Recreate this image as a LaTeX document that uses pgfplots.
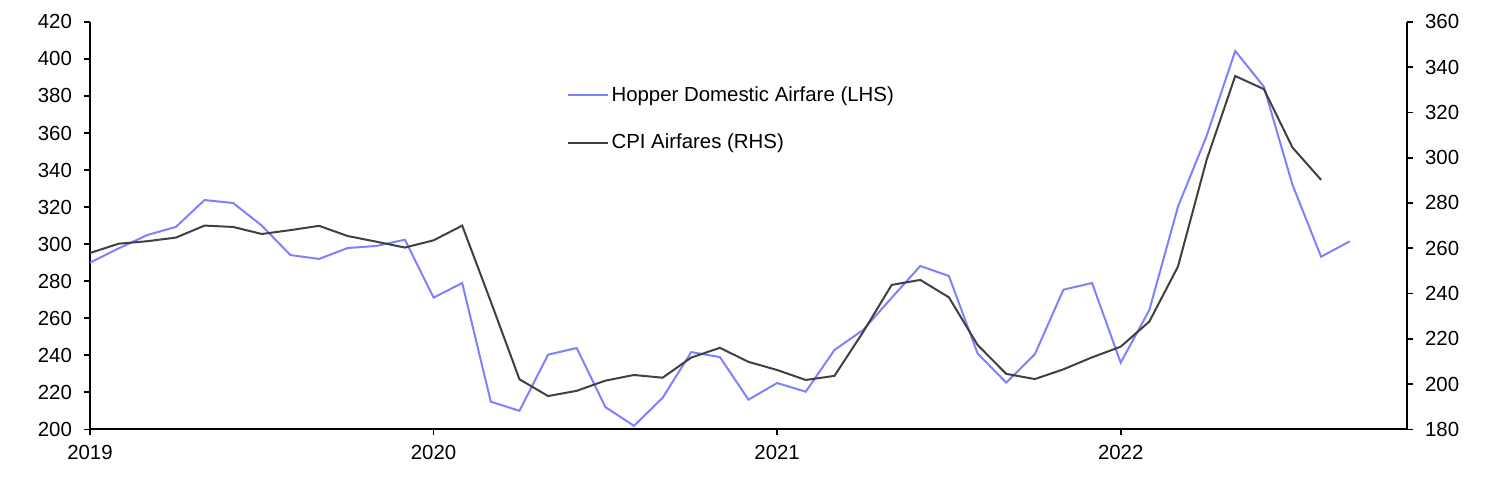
\documentclass[border=0pt]{standalone}
\usepackage{fontspec}
\setmainfont{Liberation Sans}
\usepackage{pgfplots}
\pgfplotsset{compat=1.18}

\definecolor{hopper}{RGB}{128,128,255}
\definecolor{cpi}{RGB}{64,64,64}

% months since Jan 2019
\pgfplotstableread{
m  v
0  290.0
1  297.7
2  304.9
3  309.3
4  323.8
5  322.2
6  310.0
7  294.1
8  292.0
9  297.9
10 299.0
11 302.4
12 271.1
13 279.0
14 214.9
15 210.0
16 240.3
17 243.9
18 212.0
19 201.9
20 217.0
21 241.7
22 239.0
23 216.0
24 225.0
25 220.3
26 242.8
27 253.6
28 271.0
29 288.2
30 282.8
31 241.0
32 225.2
33 240.5
34 275.4
35 279.0
36 236.0
37 264.4
38 320.2
39 358.4
40 404.3
41 385.0
42 332.0
43 293.2
44 301.5
}\hopper

\pgfplotstableread{
m  v
0  257.9
1  262.0
2  263.1
3  264.7
4  270.0
5  269.4
6  266.3
7  268.0
8  269.9
9  265.4
10 262.9
11 260.3
12 263.5
13 270.0
14 236.4
15 202.1
16 194.7
17 197.0
18 201.5
19 204.0
20 202.8
21 211.7
22 216.0
23 209.8
24 206.2
25 201.8
26 203.6
27 222.9
28 243.8
29 246.0
30 238.3
31 217.3
32 204.5
33 202.2
34 206.5
35 211.8
36 216.5
37 227.6
38 251.9
39 299.0
40 336.1
41 330.3
42 304.5
43 290.2
}\cpi

\pgfplotsset{
  every axis/.append style={
    scale only axis,
    width=658.5pt, height=203.7pt,
    xmin=0, xmax=46,
    tick align=outside,
    major tick length=3pt,
    tick style={black, line width=0.8pt},
    axis line style={black, line width=1pt},
    ticklabel style={font=\fontsize{10.2}{12}\selectfont},
    /pgf/number format/assume math mode=true,
  },
}

\begin{document}
\begin{tikzpicture}
\begin{axis}[
    axis x line*=bottom,
    axis y line*=left,
    ymin=200, ymax=420,
    ytick distance=20,
    xtick={0,12,24,36},
    xticklabels={2019,2020,2021,2022},
    xticklabel style={yshift=-1.5pt},
    yticklabel style={xshift=-2.5pt},
]
\coordinate (bl) at (rel axis cs:0,0);
\addplot[hopper, line width=1pt, no marks] table[x=m, y=v] {\hopper};
\end{axis}
\begin{axis}[
    axis x line=none,
    axis y line*=right,
    ymin=180, ymax=360,
    ytick distance=20,
    yticklabel style={xshift=2.5pt},
    legend cell align=left,
    legend style={
      at={(0.357,0.86)}, anchor=north west,
      draw=none, fill=none,
      font=\fontsize{10.2}{12}\selectfont,
      row sep=12pt,
      nodes={inner sep=1.5pt},
    },
    legend image code/.code={\draw[#1] (0pt,0pt) -- (20pt,0pt);},
]
\addlegendimage{hopper, line width=1pt}
\addlegendentry{Hopper Domestic Airfare (LHS)}
\addplot[cpi, line width=1pt, no marks] table[x=m, y=v] {\cpi};
\addlegendentry{CPI Airfares (RHS)}
\end{axis}
\pgfresetboundingbox
\path[use as bounding box] (bl) ++(-45pt,-29.85pt) rectangle ++(744pt,244.5pt);
\end{tikzpicture}
\end{document}
